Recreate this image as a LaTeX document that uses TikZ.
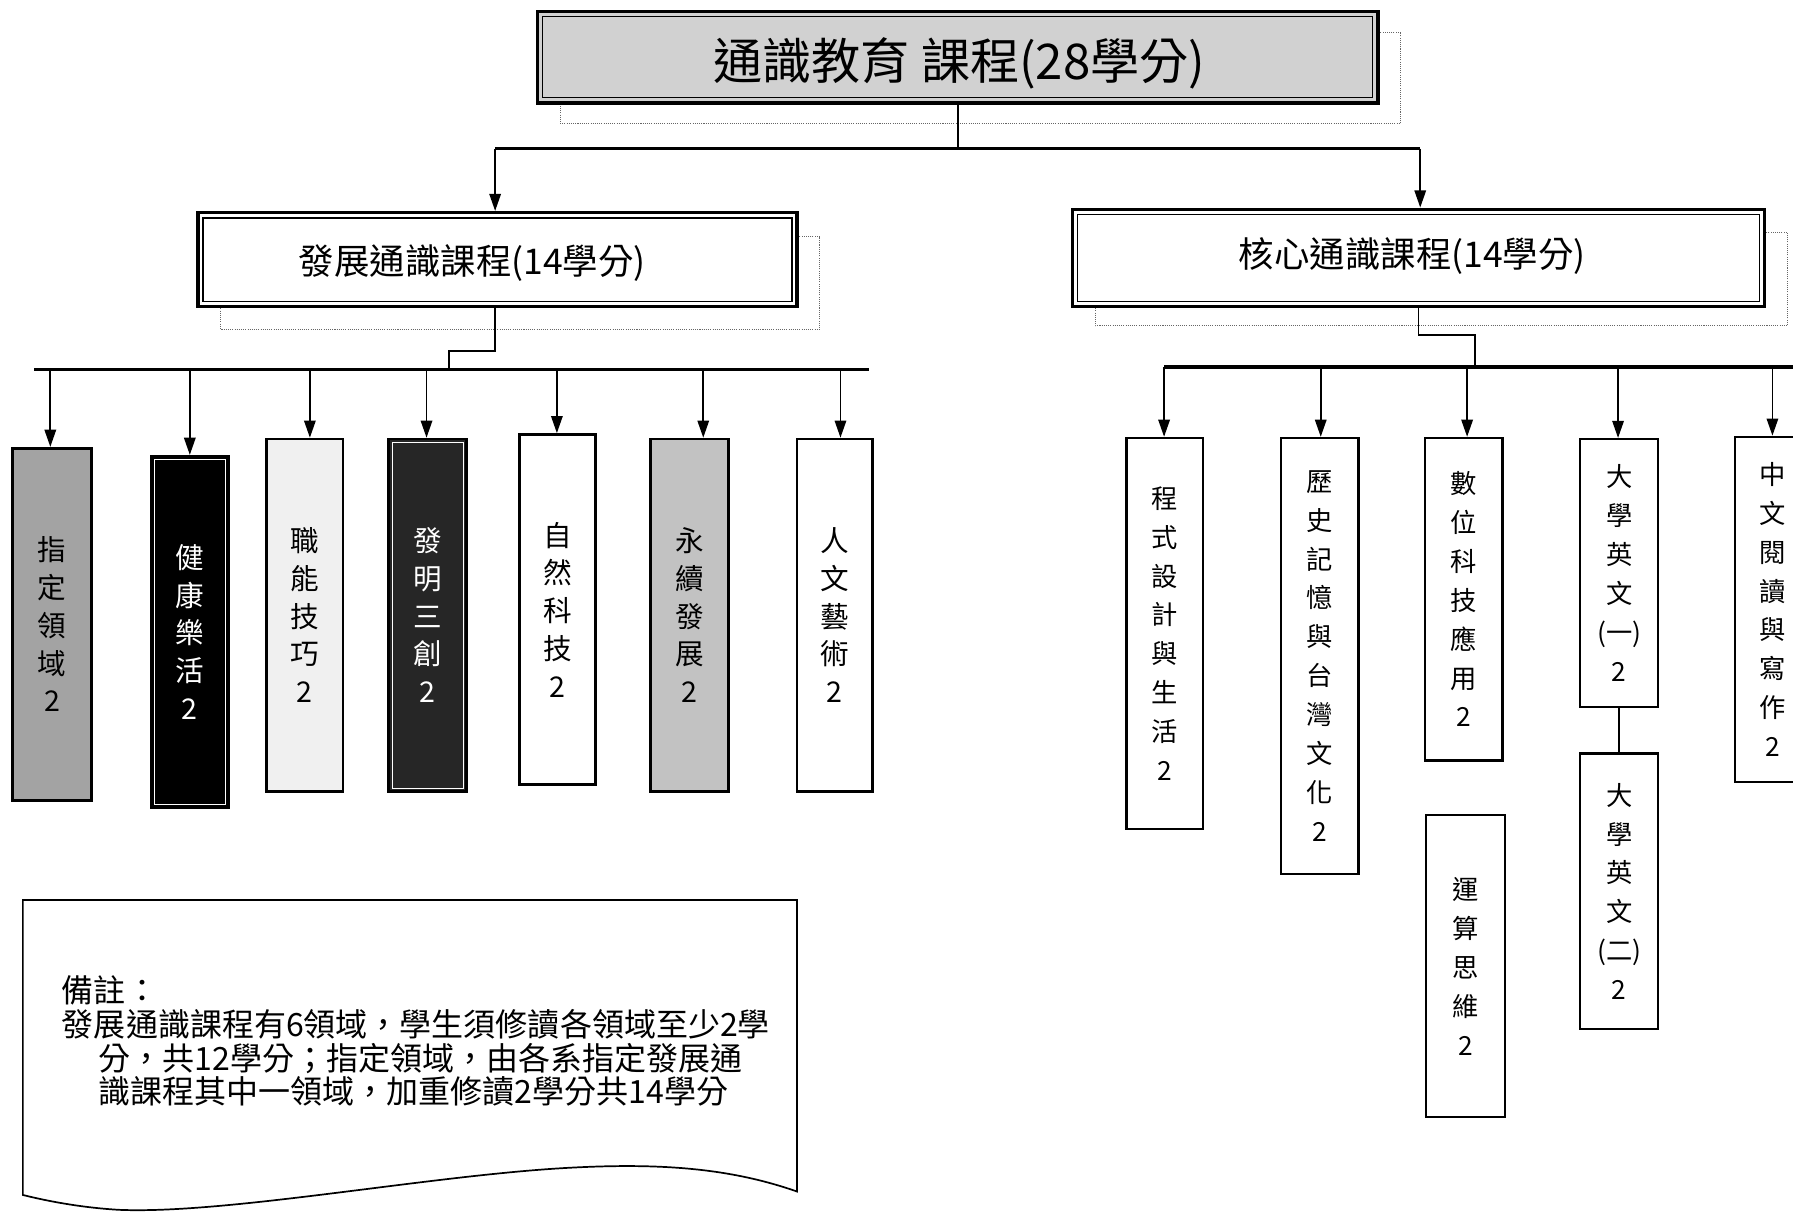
\documentclass[tikz,border=0pt]{standalone}
\usepackage{fontspec}
\newfontfamily\cjk{Noto Sans CJK TC}
\usetikzlibrary{arrows.meta}
\begin{document}
\begin{tikzpicture}[x=1pt,y=-1pt,
  conn/.style={line width=1.6pt},
  bus/.style={line width=3pt},
  arr/.style={line width=1.6pt,-{Triangle[length=15pt,width=10pt]}},
  shadowline/.style={densely dotted,line width=0.9pt,black!60},
  mainbox/.style={draw,line width=3pt,fill=white,inner sep=0pt},
  innerline/.style={line width=1.2pt},
  leaf/.style={draw,line width=2.4pt,inner sep=0pt,align=center,font=\cjk\fontsize{25}{33}\selectfont},
  leafr/.style={draw,line width=2pt,inner sep=0pt,align=center,font=\cjk\fontsize{23}{34}\selectfont},
  midtext/.style={font=\cjk\fontsize{31}{36}\selectfont,inner sep=0pt}
]
\useasboundingbox[fill=white] (0,0) rectangle (1568,1063);

% ---------- top box ----------
\draw[shadowline] (490,28) rectangle (1225,108);
\node[mainbox,fill=black!18,minimum width=735pt,minimum height=80pt] (top) at (837.5,50) {};
\draw[innerline] ([shift={(6,6)}]top.north west) rectangle ([shift={(-6,-6)}]top.south east);
\node[font=\cjk\fontsize{43}{50}\selectfont,inner sep=0pt] (toptext) at (839,55) {通識教育 課程(28學分)};

% ---------- middle boxes ----------
\draw[shadowline] (193,207) rectangle (717,288);
\node[mainbox,minimum width=524pt,minimum height=82pt] (lbox) at (435,227) {};
\draw[innerline] ([shift={(6,6)}]lbox.north west) rectangle ([shift={(-6,-6)}]lbox.south east);
\node[midtext] (ltext) at (413,230) {發展通識課程(14學分)};

\draw[shadowline] (958,203) rectangle (1563,285);
\node[mainbox,minimum width=605pt,minimum height=85pt] (rbox) at (1240.5,225.5) {};
\draw[innerline] ([shift={(6,6)}]rbox.north west) rectangle ([shift={(-6,-6)}]rbox.south east);
\node[midtext] (rtext) at (1235,224) {核心通識課程(14學分)};

% ---------- top connectors ----------
\coordinate (tb1) at (433,130);
\coordinate (tb2) at (1242,130);
\draw[conn] (top.south) -- (top.south |- tb1);
\draw[bus] (tb1) -- (tb2);
\draw[arr] (tb1) -- (tb1 |- lbox.north);
\draw[arr] (tb2) -- (tb2 |- rbox.north);

% ---------- left leaves ----------
\node[leaf,fill=black!36,minimum width=69pt,minimum height=308pt] (b1) at (45.5,546) {指\\定\\領\\域\\2};
\node[leaf,fill=black,text=white,minimum width=68pt,minimum height=307pt] (b2) at (166,552.5) {健\\康\\樂\\活\\2};
\draw[white,line width=1pt] ([shift={(4,4)}]b2.north west) rectangle ([shift={(-4,-4)}]b2.south east);
\node[leaf,fill=black!6,minimum width=67pt,minimum height=308pt] (b3) at (266.5,538) {職\\能\\技\\巧\\2};
\node[leaf,fill=black!85,text=white,minimum width=68pt,minimum height=308pt] (b4) at (374,538) {發\\明\\三\\創\\2};
\draw[white,line width=0.8pt] ([shift={(4,4)}]b4.north west) rectangle ([shift={(-4,-4)}]b4.south east);
\node[leaf,fill=white,minimum width=67pt,minimum height=306pt] (b5) at (487.5,533) {自\\然\\科\\技\\2};
\node[leaf,fill=black!24,minimum width=68pt,minimum height=308pt] (b6) at (603,538) {永\\續\\發\\展\\2};
\node[leaf,fill=white,minimum width=66pt,minimum height=308pt] (b7) at (730,538) {人\\文\\藝\\術\\2};

\coordinate (lj) at (393,307);
\coordinate (lbusL) at (30,323);
\coordinate (lbusR) at (760,323);
\draw[conn] ([xshift=-2pt]lbox.south) |- (lj) -- (lj |- lbusL);
\draw[bus] (lbusL) -- (lbusR);
\foreach \n/\x in {b1/44,b2/166,b3/271,b4/373,b5/487,b6/615,b7/735}{
  \coordinate (a\n) at (\x,323);
  \draw[arr] (a\n) -- (a\n |- \n.north);
}

% ---------- right leaves ----------
\node[leafr,minimum width=67pt,minimum height=342pt] (r1) at (1018.5,554) {程\\式\\設\\計\\與\\生\\活\\2};
\node[leafr,minimum width=68pt,minimum height=381pt] (r2) at (1154,573.5) {歷\\史\\記\\憶\\與\\台\\灣\\文\\化\\2};
\node[leafr,minimum width=68pt,minimum height=282pt] (r3) at (1280,524) {數\\位\\科\\技\\應\\用\\2};
\node[leafr,minimum width=68pt,minimum height=234pt] (r4) at (1416,501) {大\\學\\英\\文\\(一)\\2};
\node[leafr,minimum width=66pt,minimum height=302pt] (r5) at (1550,533) {中\\文\\閱\\讀\\與\\寫\\作\\2};
\node[leafr,minimum width=69pt,minimum height=264pt] (r6) at (1281.5,845) {運\\算\\思\\維\\2};
\node[leafr,minimum width=68pt,minimum height=241pt] (r7) at (1416,779.5) {大\\學\\英\\文\\(二)\\2};

\coordinate (rj) at (1290,293);
\coordinate (rbusL) at (1018,321);
\coordinate (rbusR) at (1568,321);
\draw[conn] (rbox.south) |- (rj) -- (rj |- rbusL);
\draw[bus] (rbusL) -- (rbusR);
\foreach \n/\x in {r1/1018,r2/1155,r3/1283,r4/1415,r5/1550}{
  \coordinate (a\n) at (\x,321);
  \draw[arr] (a\n) -- (a\n |- \n.north);
}
\draw[conn] (r4.south) -- (r7.north);

% ---------- note ----------
\draw[line width=1.5pt] (20,787) -- (697,787) -- (697,1042)
  .. controls (640,1022) and (580,1017) .. (502,1021)
  .. controls (380,1027) and (200,1062) .. (104,1058)
  .. controls (70,1056) and (40,1050) .. (20,1045) -- cycle;
\node[anchor=north west,align=left,inner sep=0pt,font=\cjk\fontsize{28}{29.5}\selectfont] (note) at (54,853)
 {備註：\\發展通識課程有6領域，學生須修讀各領域至少2學\\\hspace*{32pt}分，共12學分；指定領域，由各系指定發展通\\\hspace*{32pt}識課程其中一領域，加重修讀2學分共14學分};
\end{tikzpicture}
\end{document}
